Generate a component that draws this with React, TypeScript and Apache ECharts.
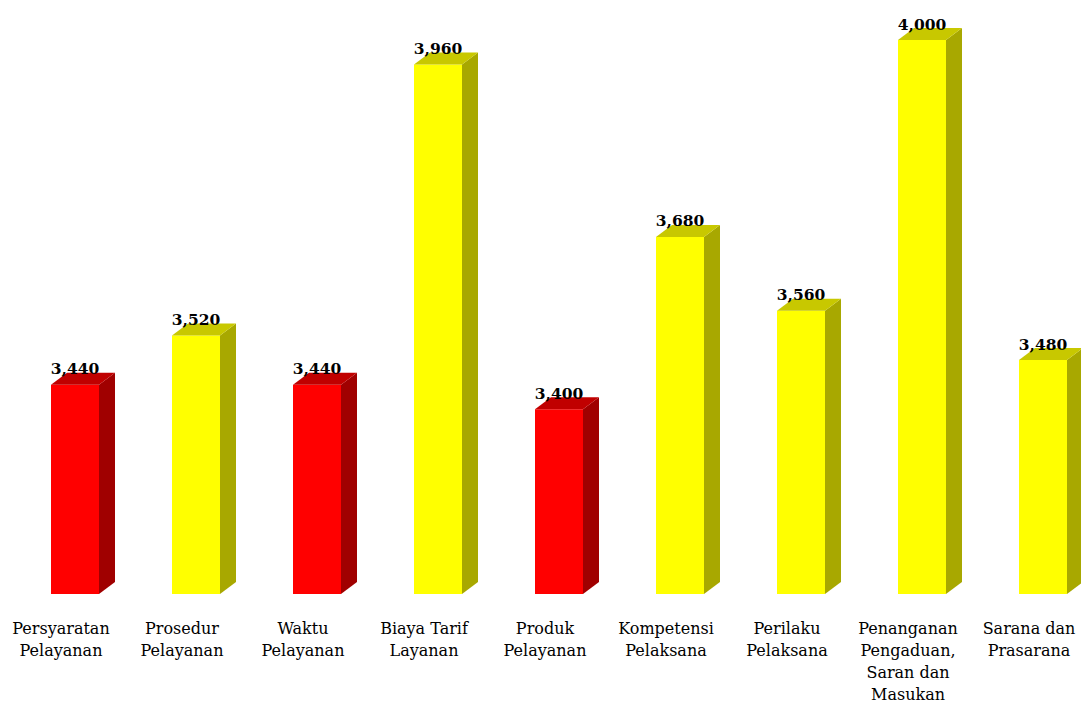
import React, { useEffect, useRef } from "react";
import * as echarts from "echarts";

const categories: string[] = [
  "Persyaratan\nPelayanan",
  "Prosedur\nPelayanan",
  "Waktu\nPelayanan",
  "Biaya Tarif\nLayanan",
  "Produk\nPelayanan",
  "Kompetensi\nPelaksana",
  "Perilaku\nPelaksana",
  "Penanganan\nPengaduan,\nSaran dan\nMasukan",
  "Sarana dan\nPrasarana",
];
const values: number[] = [3.44, 3.52, 3.44, 3.96, 3.4, 3.68, 3.56, 4.0, 3.48];
const barColors: string[] = ["red", "yellow", "red", "yellow", "red", "yellow", "yellow", "yellow", "yellow"];

const AXIS_MIN = 3.1;
const AXIS_MAX = 4.0;

const palette: Record<string, { front: string; side: string; top: string }> = {
  red: { front: "#FF0000", side: "#A00000", top: "#C00000" },
  yellow: { front: "#FFFF00", side: "#A8A800", top: "#C8C800" },
};

const fmt = (v: number) => v.toFixed(3).replace(".", ",");

export default function App() {
  const ref = useRef<HTMLDivElement>(null);
  useEffect(() => {
    if (!ref.current) return;
    const chart = echarts.init(ref.current, undefined, { renderer: "svg" });
    chart.setOption({
      animation: false,
      backgroundColor: "#ffffff",
      grid: { left: 61, right: 52, top: 40, bottom: 108, outerBoundsMode: "none", containLabel: false },
      xAxis: {
        type: "category",
        data: categories,
        boundaryGap: false,
        axisLine: { show: false },
        axisTick: { show: false },
        splitLine: { show: false },
        axisLabel: {
          interval: 0,
          margin: 23,
          color: "#000",
          fontFamily: "DejaVu Serif",
          fontSize: 16,
          lineHeight: 22,
        },
      },
      yAxis: {
        type: "value",
        min: AXIS_MIN,
        max: AXIS_MAX,
        show: false,
        splitLine: { show: false },
      },
      series: [
        {
          type: "custom",
          clip: false,
          data: values.map((v, i) => [i, v]),
          encode: { x: 0, y: 1 },
          renderItem: (params: any, api: any) => {
            const i = api.value(0);
            const v = api.value(1);
            const top = api.coord([i, v]);
            const bot = api.coord([i, AXIS_MIN]);
            const c = palette[barColors[i]];
            const x0 = top[0] - 10;
            const x1 = x0 + 48;
            const yT = top[1];
            const yB = bot[1];
            const dx = 16;
            const dy = 12;
            return {
              type: "group",
              children: [
                {
                  type: "polygon",
                  shape: { points: [[x0, yT], [x1, yT], [x1, yB], [x0, yB]] },
                  style: { fill: c.front },
                },
                {
                  type: "polygon",
                  shape: { points: [[x1, yT], [x1 + dx, yT - dy], [x1 + dx, yB - dy], [x1, yB]] },
                  style: { fill: c.side },
                },
                {
                  type: "polygon",
                  shape: { points: [[x0, yT], [x0 + dx, yT - dy], [x1 + dx, yT - dy], [x1, yT]] },
                  style: { fill: c.top },
                },
                {
                  type: "text",
                  style: {
                    text: fmt(v),
                    x: (x0 + x1) / 2,
                    y: yT - 16,
                    align: "center",
                    verticalAlign: "middle",
                    fontFamily: "DejaVu Serif",
                    fontWeight: "bold",
                    fontSize: 15.5,
                    fill: "#000",
                  },
                },
              ],
            };
          },
        },
      ],
    });
    return () => chart.dispose();
  }, []);
  return (
    <div
      ref={ref}
      style={{ position: "fixed", left: 0, top: 0, width: 1081, height: 702, background: "#fff" }}
    />
  );
}
